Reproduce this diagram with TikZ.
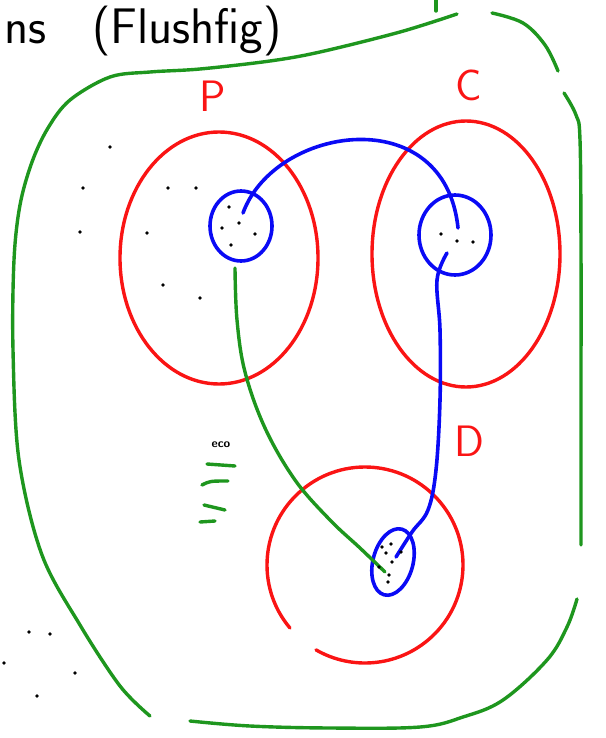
\documentclass[tikz,border=0pt]{standalone}
\usetikzlibrary{shapes.geometric}
\definecolor{skgreen}{RGB}{30,150,30}
\definecolor{skred}{RGB}{250,20,20}
\definecolor{skblue}{RGB}{10,10,245}
\begin{document}
\begin{tikzpicture}[x=1pt,y=-1pt,line cap=round,line join=round,
  grnline/.style={draw=skgreen,line width=3.4pt},
  redline/.style={draw=skred,line width=3.4pt},
  blueline/.style={draw=skblue,line width=3.6pt},
  redring/.style={ellipse,draw=skred,line width=3.4pt,inner sep=0pt},
  bluering/.style={ellipse,draw=skblue,line width=3.6pt,inner sep=0pt},
  lbl/.style={text=skred,font=\sffamily\fontsize{44}{44}\selectfont,inner sep=0pt},
  hand/.style={text=black,font=\sffamily\fontsize{50}{50}\selectfont,inner sep=0pt},
  dot/.style={fill=black,circle,inner sep=0pt,minimum size=3.8pt}]
\useasboundingbox (0,0) rectangle (605,738);

% heading text
\node[hand,anchor=base west] (t1) at (4,44) {ns};
\node[hand,anchor=base west] (t2) at (92,44) {(Flushfig)};

% green outer boundary (four strokes) and tick
\draw[grnline] plot[smooth,tension=0.55] coordinates {(457,14) (400,32) (320,52) (270,61) (200,69) (150,72) (110,77) (70,100) (48,128) (32,162) (20,205) (14,260) (13,350) (19,460) (42,555) (80,625) (120,686) (150,716)};
\draw[grnline] plot[smooth,tension=0.6] coordinates {(492,13) (523,23) (545,45) (558,71)};
\draw[grnline] plot[smooth,tension=0.6] coordinates {(564,93) (576,115) (580,140) (581,250) (581,400) (581,545)};
\draw[grnline] plot[smooth,tension=0.6] coordinates {(577,599) (567,627) (547,660) (503,700) (463,717) (420,727) (330,728) (250,726) (190,721)};
\draw[grnline] (436,0) -- (436,11);

% red sets
\node[redring,minimum width=198pt,minimum height=252pt] (P) at (219,258) {};
\node[redring,minimum width=188pt,minimum height=266pt] (C) at (466,254) {};
\coordinate (Dc) at (365,565);
\draw[redline] ([shift={(140:98)}]Dc) arc[start angle=140,end angle=480,radius=98];

\node[lbl] (Plbl) at (213,96) {P};
\node[lbl] (Clbl) at (469,85) {C};
\node[lbl] (Dlbl) at (469,441) {D};

% blue inner sets
\node[bluering,minimum width=62pt,minimum height=70pt] (Pin) at (241,226) {};
\node[bluering,minimum width=72pt,minimum height=80pt] (Cin) at (455,235) {};
\node[bluering,minimum width=40pt,minimum height=68pt,rotate=-15] (Din) at (393,562) {};

% connector end points
\coordinate (pa) at (243,213);
\coordinate (ca) at (458,228);
\coordinate (cb) at (447,253);
\coordinate (da) at (396,557);
\coordinate (pb) at (235,268);
\coordinate (db) at (385,572);

\draw[blueline] (pa) .. controls (275,125) and (445,100) .. (ca);
\draw[blueline] plot[smooth,tension=0.6] coordinates {(cb) (437,280) (440,330) (440,400) (436,470) (428,510) (412,532) (da)};
\draw[grnline] plot[smooth,tension=0.6] coordinates {(pb) (237,320) (245,372) (265,428) (295,480) (330,520) (360,548) (db)};

% dots
\foreach \x/\y in {110/147,83/188,168/188,196/188,80/232,147/233,163/285,200/298,
  229/207,239/223,222/228,255/234,231/245,
  441/234,457/241,473/242,
  382/547,391/544,386/553,401/552,392/562,379/567,389/575,388/582,
  29/632,50/634,4/663,75/673,37/696}
  \node[dot] at (\x,\y) {};

% eco and green dashes
\node[text=black,font=\sffamily\bfseries\fontsize{12}{12}\selectfont,inner sep=0pt] (eco) at (221,445) {eco};
\draw[grnline] (207,464) -- (235,466);
\draw[grnline] (202,485) .. controls (210,481) .. (228,481);
\draw[grnline] (204,505) -- (225,510);
\draw[grnline] (200,522) -- (215,521);
\end{tikzpicture}
\end{document}
